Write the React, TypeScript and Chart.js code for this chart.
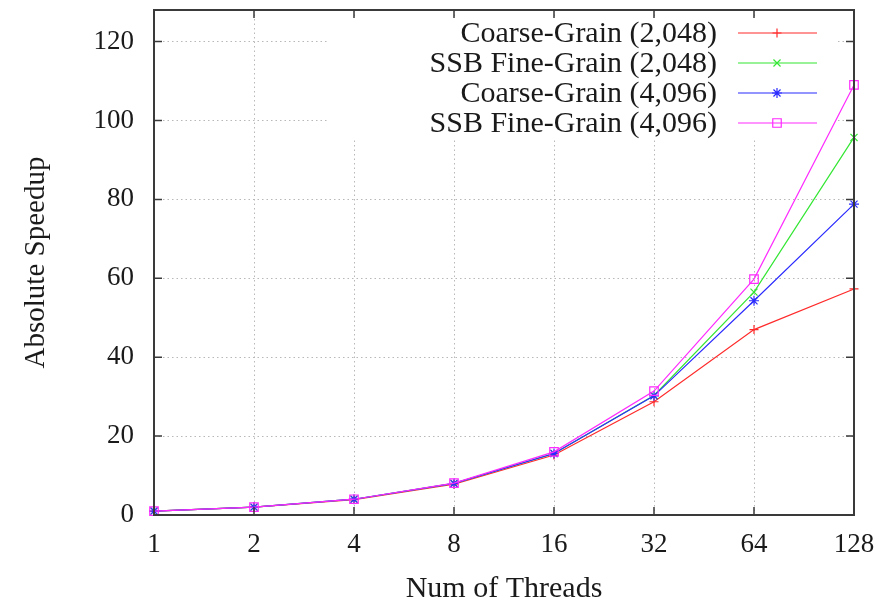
import React, { useEffect, useRef } from 'react';
import { Chart, registerables } from 'chart.js';

Chart.register(...registerables);

const threads = ['1', '2', '4', '8', '16', '32', '64', '128'];
const coarse2048 = [1, 2, 3.9, 7.8, 15.2, 28.7, 47, 57.3];
const fine2048 = [1, 2, 4, 8, 15.6, 30.3, 56.5, 95.7];
const coarse4096 = [1, 2, 4, 8, 15.6, 30.2, 54.3, 78.8];
const fine4096 = [1, 2, 4, 8.1, 16, 31.4, 59.8, 109];
const seriesLabels = [
  'Coarse-Grain (2,048)',
  'SSB Fine-Grain (2,048)',
  'Coarse-Grain (4,096)',
  'SSB Fine-Grain (4,096)',
];
const yMin = 0;
const yMax = 128;
const yStep = 20;

const FONT = '"Liberation Serif", "Times New Roman", serif';
const TEXT = '#1a1a1a';
const FRAME = '#3a3a3a';
const colors = ['#ff2a2a', '#33e633', '#2a2aff', '#ff2aff'];
const styles = ['cross', 'crossRot', 'star', 'rect'];
const radii = [4.5, 5, 5, 6];

function drawMarker(ctx: CanvasRenderingContext2D, style: string, x: number, y: number, r: number) {
  ctx.beginPath();
  if (style === 'cross' || style === 'star') {
    ctx.moveTo(x - r, y); ctx.lineTo(x + r, y);
    ctx.moveTo(x, y - r); ctx.lineTo(x, y + r);
  }
  if (style === 'crossRot' || style === 'star') {
    const d = r * Math.SQRT1_2;
    ctx.moveTo(x - d, y - d); ctx.lineTo(x + d, y + d);
    ctx.moveTo(x - d, y + d); ctx.lineTo(x + d, y - d);
  }
  if (style === 'rect') {
    const s = r * Math.SQRT1_2;
    ctx.rect(x - s, y - s, 2 * s, 2 * s);
  }
  ctx.stroke();
}

const framePlugin = {
  id: 'gnuFrame',
  beforeDatasetsDraw(chart: any) {
    const { ctx, chartArea } = chart;
    ctx.save();
    ctx.fillStyle = '#ffffff';
    ctx.fillRect(chartArea.left + 173, chartArea.top + 8, chartArea.right - chartArea.left - 189, 121);
    ctx.restore();
  },
  afterDatasetsDraw(chart: any) {
    const { ctx, chartArea } = chart;
    const { left, right, top, bottom } = chartArea;
    ctx.save();
    ctx.strokeStyle = FRAME;
    ctx.lineWidth = 2;
    ctx.strokeRect(left, top, right - left, bottom - top);
    ctx.lineWidth = 1.5;
    const tl = 8;
    const xs = chart.scales.x;
    xs.ticks.forEach((_t: any, i: number) => {
      const px = xs.getPixelForTick(i);
      ctx.beginPath();
      ctx.moveTo(px, bottom); ctx.lineTo(px, bottom - tl);
      ctx.moveTo(px, top); ctx.lineTo(px, top + tl);
      ctx.stroke();
    });
    const ys = chart.scales.y;
    ys.ticks.forEach((t: any) => {
      const py = ys.getPixelForValue(t.value);
      ctx.beginPath();
      ctx.moveTo(left, py); ctx.lineTo(left + tl, py);
      ctx.moveTo(right, py); ctx.lineTo(right - tl, py);
      ctx.stroke();
    });
    // legend
    ctx.font = `30px ${FONT}`;
    ctx.textAlign = 'right';
    ctx.textBaseline = 'middle';
    chart.data.datasets.forEach((ds: any, i: number) => {
      const y = top + 23 + i * 30;
      ctx.fillStyle = TEXT;
      ctx.fillText(ds.label, right - 137, y + 1);
      ctx.strokeStyle = ds.borderColor;
      ctx.lineWidth = 1.2;
      ctx.beginPath();
      ctx.moveTo(right - 116, y); ctx.lineTo(right - 37, y);
      ctx.stroke();
      drawMarker(ctx, ds.pointStyle, right - 77, y, ds.pointRadius);
    });
    ctx.restore();
  },
};

export default function App() {
  const ref = useRef<HTMLCanvasElement | null>(null);
  useEffect(() => {
    if (!ref.current) return;
    const series = [coarse2048, fine2048, coarse4096, fine4096];
    const chart = new Chart(ref.current, {
      type: 'line',
      data: {
        labels: threads,
        datasets: series.map((d, i) => ({
          label: seriesLabels[i],
          data: d,
          borderColor: colors[i],
          backgroundColor: 'transparent',
          borderWidth: 1.2,
          pointStyle: styles[i] as any,
          pointRadius: radii[i],
          pointBorderColor: colors[i],
          pointBackgroundColor: 'transparent',
          pointBorderWidth: 1.2,
          tension: 0,
          clip: false as any,
          order: 3 - i,
        })),
      },
      options: {
        animation: false,
        responsive: false,
        layout: { padding: { top: 10, right: 39, left: 0, bottom: 0 } },
        plugins: { legend: { display: false }, tooltip: { enabled: false } },
        scales: {
          x: {
            type: 'category',
            offset: false,
            grid: { color: '#b8b8b8', lineWidth: 1, drawTicks: false },
            border: { display: false, dash: [1.5, 3] },
            ticks: {
              font: { family: FONT, size: 27 },
              color: TEXT,
              padding: 14,
              maxRotation: 0,
              autoSkip: false,
            },
            title: {
              display: true,
              text: 'Num of Threads',
              font: { family: FONT, size: 30, lineHeight: 1 },
              color: TEXT,
              padding: { top: 0, bottom: 0 },
            },
            afterFit: (s: any) => {
              s.height = 89;
              s.paddingLeft = 0;
              s.paddingRight = 0;
            },
          },
          y: {
            min: yMin,
            max: yMax,
            grid: { color: '#b8b8b8', lineWidth: 1, drawTicks: false },
            border: { display: false, dash: [1.5, 3] },
            ticks: {
              stepSize: yStep,
              includeBounds: false,
              font: { family: FONT, size: 27 },
              color: TEXT,
              padding: 20,
            },
            afterBuildTicks: (s: any) => {
              s.ticks = s.ticks.filter((t: any) => t.value % yStep === 0);
            },
            title: {
              display: true,
              text: 'Absolute Speedup',
              font: { family: FONT, size: 29, lineHeight: 1 },
              color: TEXT,
              padding: { top: 22, bottom: 0 },
            },
            afterFit: (s: any) => {
              s.width = 154;
              s.paddingTop = 0;
              s.paddingBottom = 0;
            },
          },
        },
      },
      plugins: [framePlugin],
    });
    return () => chart.destroy();
  }, []);
  return (
    <div style={{ position: 'fixed', left: 0, top: 0, width: 893, height: 604, background: '#fff' }}>
      <canvas ref={ref} width={893} height={604} />
    </div>
  );
}
